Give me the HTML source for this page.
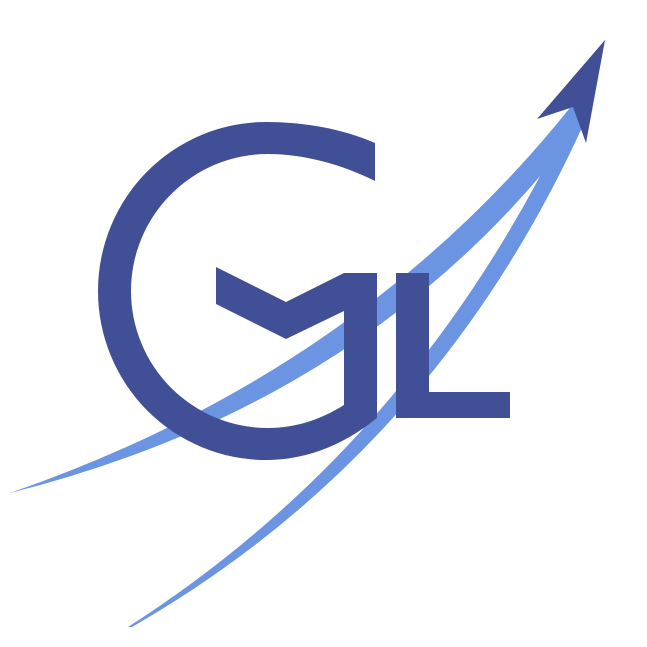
<!DOCTYPE html>
<html><head><meta charset="utf-8"><style>html,body{margin:0;padding:0;background:#fff}svg{display:block}</style></head>
<body>
<svg width="647" height="647" viewBox="0 0 647 647">
<path fill="#6b94e3" d="M10,493 Q360,372 573,104 L586,118 Q380,400 10,493 Z"/>
<path fill="#6b94e3" d="M128,627 Q420,440 575,106 L589,112 Q440,450 132,627 Z"/>
<g fill="#414f96">
<path fill-rule="evenodd" d="M375,143 C343,129 305,122 266,122 A168,169 0 0 0 266,460 C302,460 340,448 377,418 L377,273 L344,273 L344,405 C320,420 295,428 268,428 A137,137 0 0 1 268,154 C305,154 343,165 375,181 Z"/>
<polygon points="216,267 286,302 344,273 344,311 286,339 216,304"/>
</g>
<g fill="#414f96">
<rect x="396" y="273" width="33" height="145"/>
<rect x="396" y="392" width="114" height="26"/>
</g>
<polygon fill="#414f96" points="605,40 537,119 573,107 586,143"/>
</svg>
</body></html>
